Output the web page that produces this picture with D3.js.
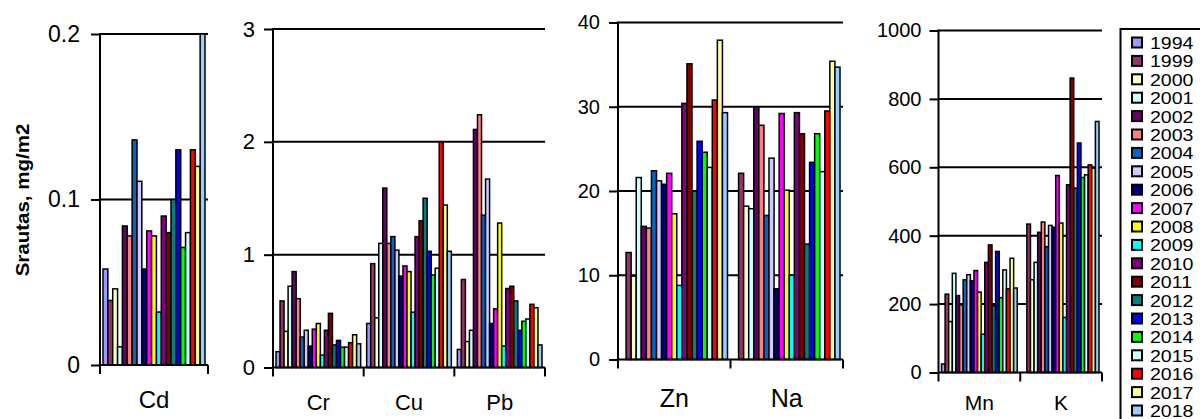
<!DOCTYPE html>
<html>
<head>
<meta charset="utf-8">
<script src="https://cdn.jsdelivr.net/npm/d3@7"></script>
<style>
  body { margin: 0; background: #fff; }
  svg { display: block; font-family: "Liberation Sans", Arial, sans-serif; }
  .bar { stroke: #000; stroke-width: 1.5; }
  .grid, .axis-line { stroke: #000; stroke-width: 2; }
</style>
</head>
<body>
<div id="chart"></div>
<script>

// years in the legend and their colours
var years = ['1994', '1999', '2000', '2001', '2002', '2003', '2004', '2005', '2006', '2007',
             '2008', '2009', '2010', '2011', '2012', '2013', '2014', '2015', '2016', '2017', '2018'];
var colors = ['#9999FF', '#993366', '#FFFFCC', '#CCFFFF', '#660066', '#FF8080', '#0066CC',
              '#CCCCFF', '#000080', '#FF00FF', '#FFFF00', '#00FFFF', '#800080', '#800000',
              '#008080', '#0000FF', '#00FF00', '#CCFFFF', '#FF0000', '#FFFF99', '#99CCFF'];

// fluxes per element, one value per year (mg/m2)
var cd = [0.058, 0.039, 0.046, 0.011, 0.084, 0.078, 0.136, 0.111, 0.058, 0.081, 0.078,
          0.032, 0.090, 0.080, 0.100, 0.130, 0.071, 0.080, 0.130, 0.120, 0.200];
var cr = [0.14, 0.59, 0.32, 0.72, 0.85, 0.61, 0.27, 0.33, 0.19, 0.34, 0.39,
          0.11, 0.33, 0.48, 0.20, 0.24, 0.18, 0.18, 0.22, 0.29, 0.21];
var cu = [0.39, 0.92, 0.44, 1.10, 1.59, 1.10, 1.16, 1.04, 0.81, 0.90, 0.85,
          0.49, 1.16, 1.30, 1.50, 1.03, 0.82, 0.88, 2.00, 1.44, 1.03];
var pb = [0.16, 0.78, 0.23, 0.33, 2.11, 2.24, 1.35, 1.67, 0.39, 0.52, 1.28,
          0.19, 0.70, 0.72, 0.59, 0.33, 0.41, 0.43, 0.56, 0.53, 0.20];
var zn = [null, 12.7, 9.9, 21.6, 15.8, 15.6, 22.4, 21.2, 20.8, 22.1, 17.3,
          8.8, 30.4, 35.1, 20.0, 25.9, 24.6, 22.8, 30.8, 37.9, 29.3];
var na = [null, 22.1, 18.2, 17.9, 30.0, 27.8, 17.1, 23.9, 8.4, 29.2, 20.1,
          10.0, 29.3, 26.8, 13.7, 23.4, 26.8, 22.3, 29.5, 35.4, 34.7];
var mn = [25, 229, 149, 290, 225, 198, 271, 286, 268, 298, 235,
          112, 322, 373, 195, 354, 219, 300, 245, 334, 247];
var k  = [null, 434, 271, 322, 410, 440, 368, 430, 425, 576, 437,
          161, 549, 861, 539, 671, 570, 578, 607, 597, 734];

// categories and tick labels of each panel
var cats1 = ['Cd'], ticks1 = [0, 0.1, 0.2];
var cats2 = ['Cr', 'Cu', 'Pb'], ticks2 = [0, 1, 2, 3];
var cats3 = ['Zn', 'Na'], ticks3 = [0, 10, 20, 30, 40];
var cats4 = ['Mn', 'K'], ticks4 = [0, 200, 400, 600, 800, 1000];

var panels = [
  { cats: cats1, series: [cd], ticks: ticks1, x0: 100, x1: 208, yTop: 34, yBase: 365,
    tickFont: 23, catFont: 24, catY: 408, labelGap: 20 },
  { cats: cats2, series: [cr, cu, pb], ticks: ticks2, x0: 273, x1: 545, yTop: 29, yBase: 367.5,
    tickFont: 22, catFont: 22, catY: 410, labelGap: 18 },
  { cats: cats3, series: [zn, na], ticks: ticks3, x0: 618, x1: 843, yTop: 22.5, yBase: 359.5,
    tickFont: 20, catFont: 25, catY: 407, labelGap: 18 },
  { cats: cats4, series: [mn, k], ticks: ticks4, x0: 938.5, x1: 1102, yTop: 30.5, yBase: 372.5,
    tickFont: 20, catFont: 21, catY: 410, labelGap: 17 }
];

var width = 1200, height = 419;

var svg = d3.select('#chart')
  .append('svg')
    .attr('width', width)
    .attr('height', height);

panels.forEach(function(p){

  var y = d3.scaleLinear()
    .domain([0, d3.max(p.ticks)])
    .range([p.yBase, p.yTop]);

  var x = d3.scaleBand()
    .domain(p.cats)
    .range([p.x0, p.x1]);

  var gap = 3;
  var xYear = d3.scaleBand()
    .domain(years)
    .range([gap, x.bandwidth() - gap]);

  var g = svg.append('g');

  // Gridlines
  g.selectAll('.grid')
    .data(p.ticks.filter(function(t){ return t > 0; }))
    .enter()
      .append('line')
        .attr('class', 'grid')
        .attr('x1', p.x0)
        .attr('x2', p.x1)
        .attr('y1', function(d){ return y(d); })
        .attr('y2', function(d){ return y(d); });

  // Bars
  p.cats.forEach(function(cat, ci){
    var rows = years.map(function(yr, i){
      return { year: yr, value: p.series[ci][i], color: colors[i] };
    }).filter(function(d){ return d.value != null; });

    g.selectAll('.bar-' + cat)
      .data(rows)
      .enter()
        .append('rect')
          .attr('class', 'bar bar-' + cat)
          .attr('x', function(d){ return x(cat) + xYear(d.year); })
          .attr('y', function(d){ return y(d.value); })
          .attr('width', xYear.bandwidth())
          .attr('height', function(d){ return p.yBase - y(d.value); })
          .attr('fill', function(d){ return d.color; });
  });

  // Y axis
  var yAxis = g.append('g')
    .attr('transform', 'translate(' + p.x0 + ',0)')
    .call(d3.axisLeft(y)
      .tickValues(p.ticks)
      .tickSize(9)
      .tickPadding(p.labelGap - 9)
      .tickFormat(function(d){ return d; }));
  yAxis.select('.domain').remove();
  yAxis.selectAll('line').attr('stroke', '#000').attr('stroke-width', 2);
  yAxis.selectAll('text')
    .attr('fill', '#000')
    .attr('font-size', p.tickFont)
    .attr('font-family', '"Liberation Sans", Arial, sans-serif');

  g.append('line')
    .attr('class', 'axis-line')
    .attr('x1', p.x0).attr('x2', p.x0)
    .attr('y1', p.yTop - 1).attr('y2', p.yBase);

  // X axis with ticks at category borders
  g.append('line')
    .attr('class', 'axis-line')
    .attr('x1', p.x0).attr('x2', p.x1)
    .attr('y1', p.yBase).attr('y2', p.yBase);

  var borders = p.cats.map(function(c){ return x(c); }).concat([p.x1]);
  g.selectAll('.xtick')
    .data(borders)
    .enter()
      .append('line')
        .attr('class', 'axis-line')
        .attr('x1', function(d){ return d; })
        .attr('x2', function(d){ return d; })
        .attr('y1', p.yBase)
        .attr('y2', p.yBase + 9);

  g.selectAll('.cat-label')
    .data(p.cats)
    .enter()
      .append('text')
        .attr('x', function(d){ return x(d) + x.bandwidth() / 2; })
        .attr('y', p.catY)
        .attr('text-anchor', 'middle')
        .attr('font-size', p.catFont)
        .text(function(d){ return d; });
});

// Y title
svg.append('text')
  .attr('transform', 'translate(29,200) rotate(-90) scale(1.08,1)')
  .attr('text-anchor', 'middle')
  .attr('font-size', 19)
  .attr('font-weight', 'bold')
  .text('Srautas, mg/m2');

// Legend
var legend = svg.append('g');
legend.append('rect')
  .attr('x', 1120.5)
  .attr('y', 29)
  .attr('width', 100)
  .attr('height', 420)
  .attr('fill', '#fff')
  .attr('stroke', '#000')
  .attr('stroke-width', 2);

var pitch = 18.4;
var items = legend.selectAll('.legend-item')
  .data(years)
  .enter()
    .append('g')
      .attr('transform', function(d, i){ return 'translate(0,' + (i * pitch) + ')'; });

items.append('rect')
  .attr('x', 1132)
  .attr('y', 37.5)
  .attr('width', 10)
  .attr('height', 10)
  .attr('fill', function(d, i){ return colors[i]; })
  .attr('stroke', '#000')
  .attr('stroke-width', 2);

items.append('text')
  .attr('transform', 'translate(1150,49) scale(1.15,1)')
  .attr('font-size', 17)
  .text(function(d){ return d; });

</script>
</body>
</html>
